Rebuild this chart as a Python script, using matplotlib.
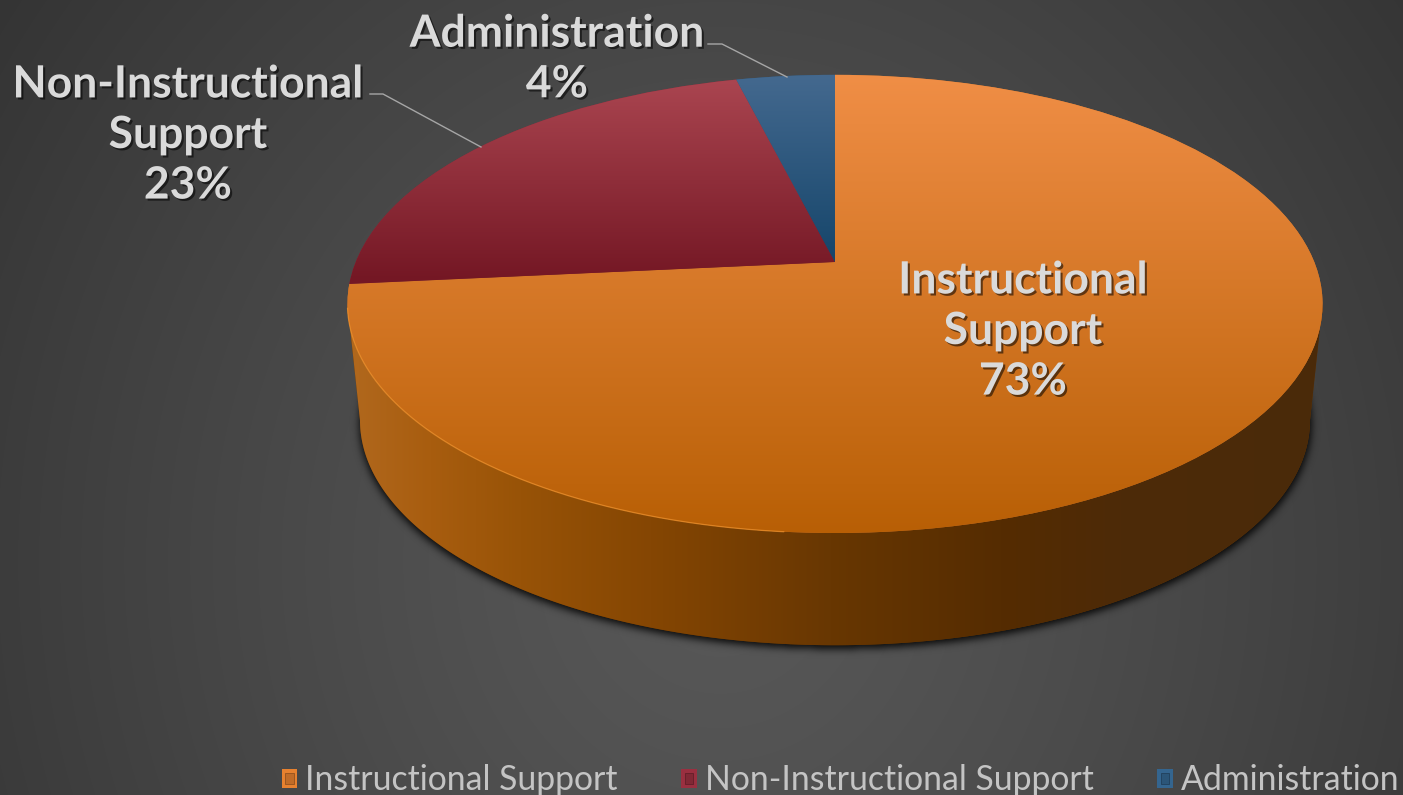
import numpy as np
import matplotlib
matplotlib.use("Agg")
import matplotlib.pyplot as plt
import matplotlib.patheffects as pe
from matplotlib.patches import Rectangle
from matplotlib.path import Path
from matplotlib.transforms import Transform
from matplotlib.legend_handler import HandlerPatch

categories = ["Instructional Support", "Non-Instructional Support", "Administration"]
label_names = ["Instructional\nSupport", "Non-Instructional\nSupport", "Administration"]
values = [73.45, 22.65, 3.9]
flat_colors = ["#D2752B", "#8C2B3A", "#2F5C82"]
top_colors = ["#F08E46", "#AA4550", "#44698F"]
bottom_colors = ["#B85F05", "#741724", "#15456A"]
label_centers = [(1023, 331), (188, 135), (557, 59)]

W, H = 1403, 795
CX, CY_TOP, CY_BOT = 835, 262, 379
A_TOP, B_TOP = 479.3, 221.4
A_BOT, B_BOT = 467.0, 217.5
K = 0.183


class Tilt(Transform):
    """Perspective view of the unit disc, giving pixel positions."""
    input_dims = 2
    output_dims = 2
    is_separable = False
    has_inverse = False

    def __init__(self, cx, cy, a, b, k):
        super().__init__()
        self.p = (cx, cy, a, b, k)

    def transform_non_affine(self, xy):
        xy = np.asarray(xy, float)
        cx, cy, a, b, k = self.p
        d = 1 + k * xy[:, 1]
        return np.column_stack([cx + a * xy[:, 0] / d, cy - b * xy[:, 1] / d])

    def transform_path_non_affine(self, path):
        return Path(self.transform_non_affine(path.vertices), path.codes)


top_tilt = Tilt(CX, CY_TOP, A_TOP, B_TOP, K)
bot_tilt = Tilt(CX, CY_BOT, A_BOT, B_BOT, K)


def unit(deg):
    t = np.radians(deg)
    return np.column_stack([np.cos(t), np.sin(t)])


def hex_rgb(c):
    return np.array(matplotlib.colors.to_rgb(c))


def vgrad(c0, c1, y0, y1):
    y = np.clip((np.arange(H) + 0.5 - y0) / (y1 - y0), 0, 1)[:, None, None]
    return (hex_rgb(c0)[None, None, :] * (1 - y) + hex_rgb(c1)[None, None, :] * y)


fig = plt.figure(figsize=(14.03, 7.95), dpi=100)
ax = fig.add_axes([0, 0, 1, 1])
extent = (0, W, H, 0)

# background: soft radial glow
yy, xx = np.mgrid[0:H, 0:W]
rr = np.hypot((xx - 720) / 1000, (yy - 560) / 1100)
shade = 0x58 - (0x58 - 0x2E) * np.clip(rr, 0, 1) ** 1.25
ax.imshow(np.dstack([shade / 255] * 3), extent=extent, aspect="auto", zorder=0,
          interpolation="bilinear")

# contact shadow under the disc
k2 = 1 - K ** 2
ell_cy = CY_BOT + B_BOT * K / k2
ell_a = A_BOT / np.sqrt(k2)
ell_b = B_BOT / k2
mask = (((xx - CX) / (ell_a + 1)) ** 2 + ((yy - 3 - ell_cy) / ell_b) ** 2 <= 1).astype(float)
fy = np.fft.fftfreq(H)[:, None]
fx = np.fft.rfftfreq(W)[None, :]
blur = np.fft.irfft2(np.fft.rfft2(mask) * np.exp(-2 * (np.pi * 4.0) ** 2 * (fx ** 2 + fy ** 2)), s=mask.shape)
shadow = np.zeros((H, W, 4))
shadow[..., 3] = np.clip(blur, 0, 1) * 0.9
ax.imshow(shadow, extent=extent, aspect="auto", zorder=1)

# side wall
front_top = top_tilt.transform(unit(np.linspace(180 + 10.5, 360 - 10.5, 300)))
front_bot = bot_tilt.transform(unit(np.linspace(360 - 10.5, 180 + 10.5, 300)))
wall = np.vstack([front_top, front_bot])
wall_x = [358, 430, 520, 650, 830, 1000, 1120, 1320]
wall_c = ["#B0671C", "#A85D0F", "#985307", "#854603", "#683702", "#552C01", "#4D2A08", "#4A2A0A"]
wall_rgb = np.array([hex_rgb(c) for c in wall_c])
wall_img = np.dstack([np.interp(np.arange(W), wall_x, wall_rgb[:, i]) for i in range(3)])
side_patch = ax.fill(wall[:, 0], wall[:, 1], color="#683702", lw=0, zorder=2)[0]
side_img = ax.imshow(wall_img, extent=extent, aspect="auto", zorder=2.5)
side_img.set_clip_path(side_patch)

# top face
wedges, _ = ax.pie(values, colors=flat_colors, startangle=90, counterclock=False,
                   wedgeprops=dict(linewidth=0))
spans = [(75, 533), (80, 280), (75, 262)]
for w, c0, c1, (y0, y1) in zip(wedges, top_colors, bottom_colors, spans):
    w.set_transform(top_tilt + ax.transData)
    w.set_zorder(3)
    im = ax.imshow(vgrad(c0, c1, y0, y1), extent=extent, aspect="auto", zorder=3.5)
    im.set_clip_path(w)

# bright rim on the lit front edge
rim = top_tilt.transform(unit(np.linspace(wedges[0].theta1 + 6, -95, 200)))
ax.plot(rim[:, 0], rim[:, 1], color="#F2952F", lw=0.9, alpha=0.7, zorder=4, solid_capstyle="round")

ax.set_aspect("auto")
ax.set_xlim(0, W)
ax.set_ylim(H, 0)
ax.set_axis_off()

# labels
ink = "#DADADA"
for name, v, (x, y) in zip(label_names, values, label_centers):
    ax.text(x, y, f"{name}\n{v:.0f}%", ha="center", va="center", color=ink, fontsize=32,
            fontfamily="Lato", fontweight="bold", linespacing=1.32, zorder=6,
            path_effects=[pe.withSimplePatchShadow(offset=(1.5, -1.5), shadow_rgbFace="k", alpha=0.55)])

# leader lines
ax.plot([370, 383, 481], [94, 94, 147], color="#A6A6A6", lw=1, zorder=5)
ax.plot([708, 722, 787], [44, 44, 77], color="#A6A6A6", lw=1, zorder=5)


class BevelHandler(HandlerPatch):
    def create_artists(self, legend, orig, xd, yd, width, height, fontsize, trans):
        c = np.array(orig.get_facecolor()[:3])
        outer = Rectangle((-xd, -yd), width, height, facecolor=np.clip(c * 1.1, 0, 1),
                          edgecolor="none", transform=trans)
        ins = width * 0.22
        inner = Rectangle((-xd + ins, -yd + ins), width - 2 * ins, height - 2 * ins,
                          facecolor=c * 0.92, edgecolor=c * 0.7, lw=0.6, transform=trans)
        return [outer, inner]


leg = ax.legend(wedges, categories, loc="lower right", bbox_to_anchor=(1.0, -0.006), ncols=3,
                frameon=False, handlelength=0.47, handleheight=0.47, handletextpad=0.24,
                columnspacing=1.87, borderpad=0.1, borderaxespad=0,
                prop=dict(family="Lato", size=24.3),
                labelcolor="#C4C4C4",
                handler_map={matplotlib.patches.Wedge: BevelHandler()})
leg.set_zorder(6)

fig.savefig("out.png", dpi=100)
